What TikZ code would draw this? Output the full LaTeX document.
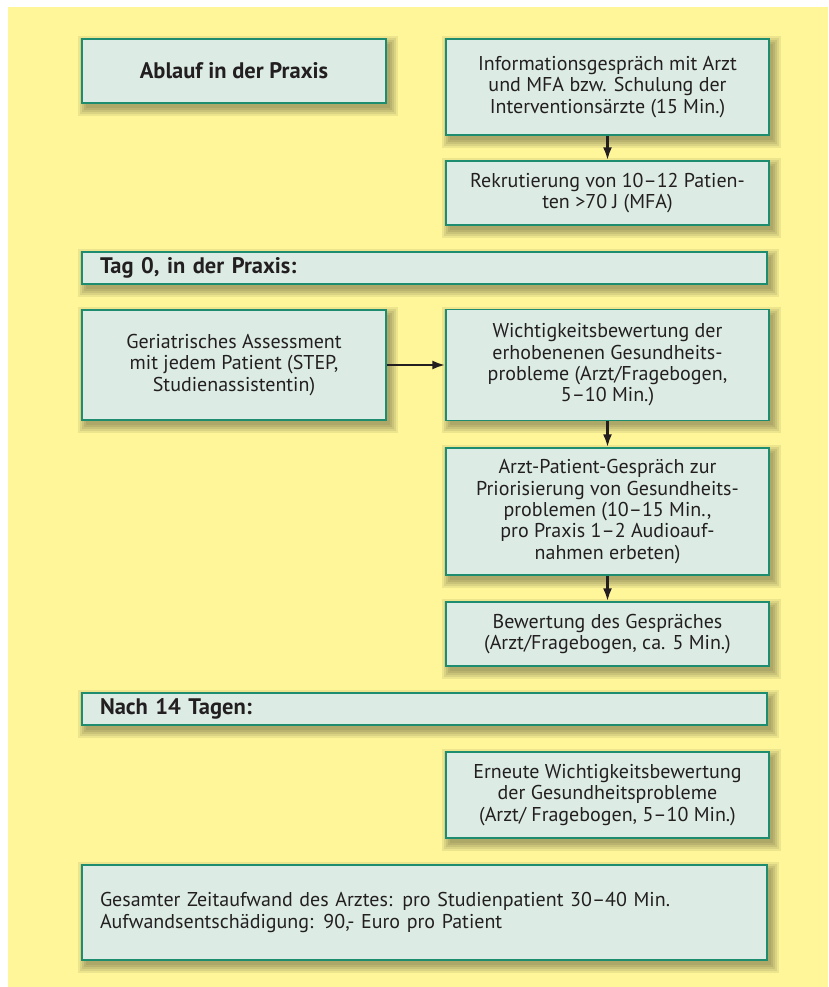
\documentclass[tikz,border=0pt]{standalone}
\usepackage{fontspec}
\setmainfont{PT Sans}
\usetikzlibrary{arrows.meta,backgrounds}
\definecolor{bgyellow}{HTML}{FFF599}
\definecolor{boxfill}{HTML}{DCECE5}
\definecolor{boxline}{HTML}{1E8C6E}
\definecolor{inkdark}{HTML}{231F20}

\begin{document}
\begin{tikzpicture}[x=1pt, y=-1pt,
    box/.style={draw=boxline, line width=1.3pt, fill=boxfill, text=inkdark,
        font=\fontsize{20}{21.3}\selectfont, align=center, inner sep=0pt,
        minimum width=323pt},
    wide/.style={box, text width=649pt, minimum width=685pt,
        inner xsep=18pt, align=left},
    headfont/.style={font=\fontsize{22.5}{24}\selectfont\bfseries},
    edge/.style={line width=2.5pt, draw=inkdark, -{Latex[length=13pt,width=9pt]}}
]
    \useasboundingbox (0,0) rectangle (828,987);

    \node[box, headfont, minimum width=304pt, minimum height=64pt] (ablauf) at (234,71)
        {Ablauf in der Praxis};
    \node[box, minimum height=96pt] (info) at (607.5,87)
        {Informationsgespräch mit Arzt\\und MFA bzw. Schulung der\\Interventionsärzte (15 Min.)};
    \node[box, minimum height=64pt] (rekrut) at (607.5,193)
        {Rekrutierung von 10–12 Patien-\\ten >70 J (MFA)};

    \node[wide, headfont, minimum height=32pt] (tag0) at (424.5,268)
        {Tag 0, in der Praxis:};
    \node[box, minimum width=304pt, minimum height=110pt] (geriat) at (234,365)
        {Geriatrisches Assessment\\mit jedem Patient (STEP,\\Studienassistentin)};
    \node[box, minimum height=111pt] (wicht) at (607.5,365)
        {Wichtigkeitsbewertung der\\erhobenenen Gesundheits-\\probleme (Arzt/Fragebogen,\\5–10 Min.)};
    \node[box, minimum height=127pt] (gespraech) at (607.5,511.5)
        {Arzt-Patient-Gespräch zur\\Priorisierung von Gesundheits-\\problemen (10–15 Min.,\\pro Praxis 1–2 Audioauf-\\nahmen erbeten)};
    \node[box, minimum height=64pt] (bewert) at (607.5,634)
        {Bewertung des Gespräches\\(Arzt/Fragebogen, ca. 5 Min.)};

    \node[wide, headfont, minimum height=32pt] (nach14) at (424.5,709)
        {Nach 14 Tagen:};
    \node[box, minimum height=86pt] (erneut) at (607.5,795)
        {Erneute Wichtigkeitsbewertung\\der Gesundheitsprobleme\\(Arzt/ Fragebogen, 5–10 Min.)};

    \node[wide, minimum height=95pt] (gesamt) at (424.5,912.5)
        {Gesamter Zeitaufwand des Arztes: pro Studienpatient 30–40 Min.\\Aufwandsentschädigung: 90,- Euro pro Patient};

    \draw[edge] (info) -- (rekrut);
    \draw[edge] (geriat) -- (wicht);
    \draw[edge] (wicht) -- (gespraech);
    \draw[edge] (gespraech) -- (bewert);

    % page colour and soft shadows behind the boxes
    \begin{scope}[on background layer]
        \fill[bgyellow] (8,7) rectangle (828,987);
        \foreach \n in {ablauf,info,rekrut,tag0,geriat,wicht,gespraech,bewert,nach14,erneut,gesamt}
            \foreach \e/\m in {7/93,5/86,3/79,1/73,-1/68}
                \fill[bgyellow!\m!black] ([shift={(4-\e,5-\e)}]\n.north west)
                    rectangle ([shift={(4+\e,5+\e)}]\n.south east);
    \end{scope}
\end{tikzpicture}
\end{document}
